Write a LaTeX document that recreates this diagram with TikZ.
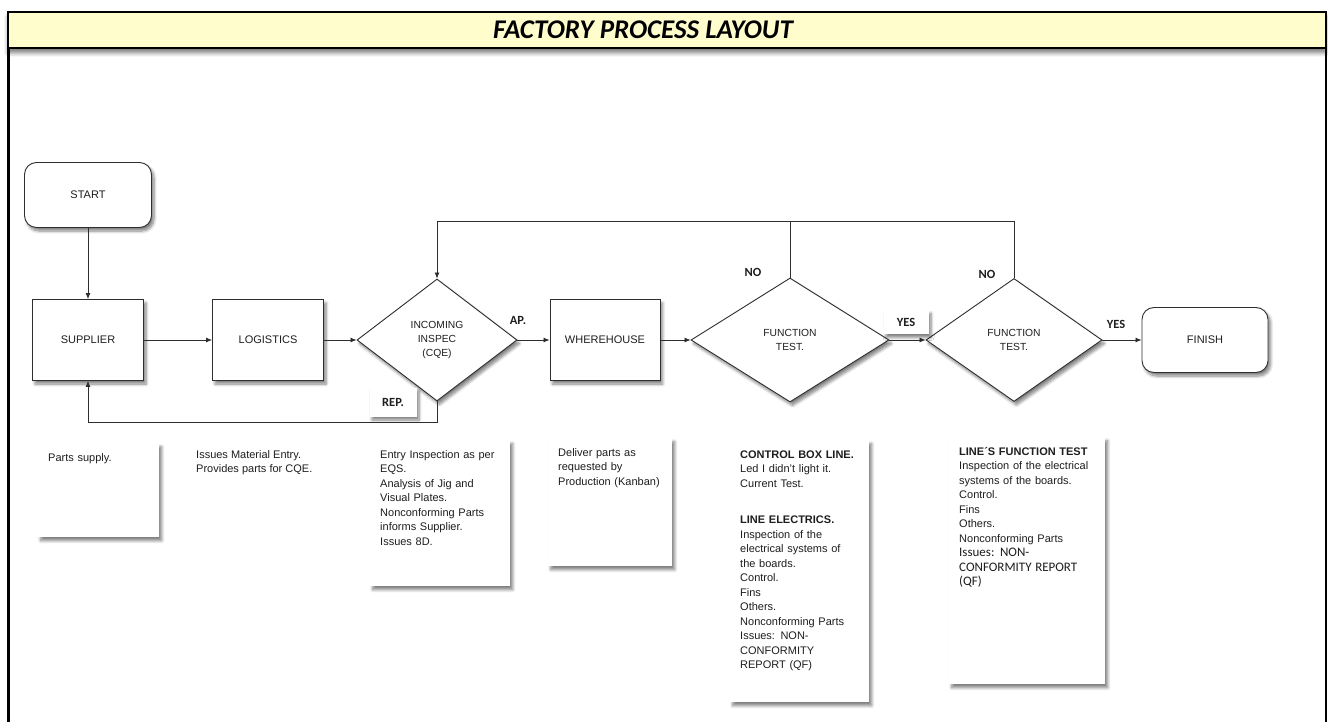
\documentclass[tikz,border=0pt]{standalone}
\usepackage{fontspec}
\setmainfont{Liberation Sans}
\newfontfamily\calib{Carlito}
\usepackage{tikz}
\usetikzlibrary{shapes.geometric,arrows.meta,shadows.blur}
\definecolor{fpband}{HTML}{FFFDCC}
\definecolor{fpline}{HTML}{2E2E2E}
\definecolor{fpink} {HTML}{1E1E1E}

\begin{document}
\begin{tikzpicture}[x=1pt, y=-1pt,
    every node/.style={font=\fontsize{11}{13}\selectfont, text=fpink},
    lift/.style={blur shadow={shadow xshift=2.5pt, shadow yshift=-3.5pt,
        shadow blur radius=3pt, shadow blur steps=6, shadow opacity=50}},
    procbox/.style={draw=fpline, line width=0.9pt, fill=white, lift,
        minimum width=111pt, minimum height=81pt},
    termbox/.style={procbox, rounded corners=12pt, minimum width=127pt, minimum height=65pt},
    decision/.style={diamond, draw=fpline, line width=0.9pt, fill=white, lift,
        inner sep=0pt, align=center, font=\fontsize{10.3}{14}\selectfont},
    flow/.style={draw=fpline, line width=0.8pt, -{Latex[length=6pt, width=5pt]}},
    link/.style={draw=fpline, line width=0.8pt},
    flag/.style={font=\calib\bfseries\fontsize{12.5}{14}\selectfont, inner sep=3pt},
    notebox/.style={anchor=north west, fill=white, lift, align=left,
        inner xsep=10pt, inner ysep=9pt, text height=9pt,
        font=\fontsize{11}{14.5}\selectfont}]
  \useasboundingbox (0,0) rectangle (1328,722);

  % frame and title band
  \draw[line width=3.5pt] (8.5,13) -- (8.5,740);
  \draw[line width=2pt] (1326,13) -- (1326,740);
  \node[draw=black, line width=1.5pt, fill=fpband, inner sep=0pt,
        blur shadow={shadow xshift=0pt, shadow yshift=-5pt, shadow blur radius=4pt, shadow opacity=50},
        minimum width=1318pt, minimum height=36pt] (title) at (667,30) {};
  \node[font=\calib\bfseries\itshape\fontsize{27}{29}\selectfont, text=black] (titletext) at (643,30)
        {FACTORY PROCESS LAYOUT};

  % process chain
  \node[termbox] (start) at (88,195) {START};
  \node[procbox] (supplier) at (88,340) {SUPPLIER};
  \node[procbox] (logistics) at (268,340) {LOGISTICS};
  \node[decision, minimum width=160pt, minimum height=122pt] (incoming) at (437,340)
        {INCOMING\\INSPEC\\(CQE)};
  \node[procbox, minimum width=110pt] (whouse) at (605,340) {WHEREHOUSE};
  \node[decision, minimum width=198pt, minimum height=124pt] (ftest1) at (790,340)
        {FUNCTION\\TEST.};
  \node[decision, minimum width=176pt, minimum height=123pt] (ftest2) at (1014,340)
        {FUNCTION\\TEST.};
  \node[termbox, minimum width=126pt] (finish) at (1205,340) {FINISH};

  \draw[flow] (start) -- (supplier);
  \draw[flow] (supplier) -- (logistics);
  \draw[flow] (logistics) -- (incoming);
  \draw[flow] (incoming) -- (whouse);
  \draw[flow] (whouse) -- (ftest1);
  \draw[flow] (ftest1) -- (ftest2);
  \draw[flow] (ftest2) -- (finish);

  % return paths
  \coordinate (reject) at (437,422);
  \coordinate (retest) at (437,221);
  \draw[flow] (incoming.south) -- (reject) -| (supplier.south);
  \draw[flow] (ftest2.north) |- (retest) -- (incoming.north);
  \draw[link] (ftest1.north) -- (ftest1.north |- retest);

  \node[flag, fill=white, lift, minimum width=47pt, minimum height=29pt] (rep) at (393,402) {REP.};
  \node[flag] (ap) at (518,320) {AP.};
  \node[flag] (no1) at (753,272) {NO};
  \node[flag] (no2) at (987,274) {NO};
  \node[flag, fill=white, lift, minimum width=45pt, minimum height=24pt] (yes1) at (906,322) {YES};
  \node[flag] (yes2) at (1116,324) {YES};

  % notes under the chain
  \node[notebox, text width=101pt, text depth=67pt] (nsupplier) at (38,443) {Parts supply.};
  \node[anchor=north west, align=left, inner sep=0pt, font=\fontsize{11}{14}\selectfont]
        (nlogistics) at (196,450) {Issues Material Entry.\\Provides parts for CQE.};
  \node[notebox, text width=120pt, text depth=119pt] (nincoming) at (370,440)
        {Entry Inspection as per\\EQS.\\Analysis of Jig and\\Visual Plates.\\Nonconforming Parts\\informs Supplier.\\Issues 8D.};
  \node[notebox, text width=104pt, text depth=101pt] (nwhouse) at (548,438)
        {Deliver parts as\\requested by\\Production (Kanban)};
  \node[notebox, text width=119pt, text depth=235pt] (nftest1) at (730,440)
        {\textbf{CONTROL BOX LINE.}\\Led I didn't light it.\\Current Test.\\[22pt]
         \textbf{LINE ELECTRICS.}\\Inspection of the\\electrical systems of\\the boards.\\Control.\\Fins\\Others.\\
         Nonconforming Parts\\Issues: NON-\\CONFORMITY\\REPORT (QF)};
  \node[notebox, text width=136pt, text depth=220pt] (nftest2) at (949,437)
        {\textbf{LINE´S FUNCTION TEST}\\Inspection of the electrical\\systems of the boards.\\Control.\\Fins\\Others.\\
         Nonconforming Parts\\{\calib\fontsize{13}{15}\selectfont Issues: NON-}\\
         {\calib\fontsize{13}{15}\selectfont CONFORMITY REPORT}\\{\calib\fontsize{13}{15}\selectfont (QF)}};
\end{tikzpicture}
\end{document}
